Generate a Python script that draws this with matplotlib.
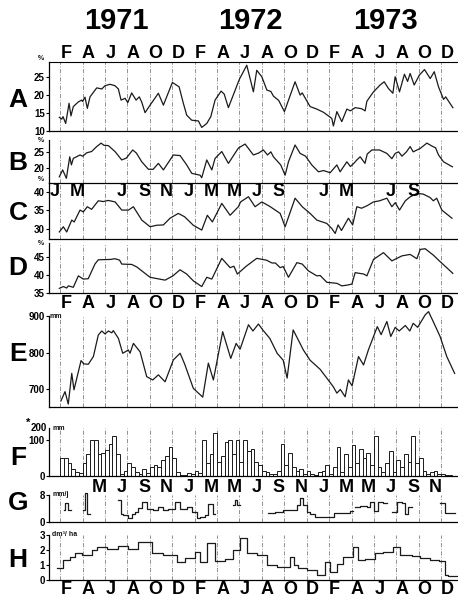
import numpy as np
import matplotlib.pyplot as plt
from matplotlib import transforms

plt.rcParams['font.family'] = ['Liberation Sans', 'DejaVu Sans']

# time axis: months counted from 1 Jan 1971 (0 = start of Jan 1971)
years = ['1971', '1972', '1973']
year_pos = [6, 18, 30]
months_main = ['F', 'A', 'J', 'A', 'O', 'D'] * 3
months_main_pos = [m + 0.5 for m in range(1, 36, 2)]
months_c = ['J', 'M', 'J', 'S', 'N', 'J', 'M', 'M', 'J', 'S', 'J', 'M', 'J', 'S']
months_c_pos = [0.5, 2.5, 6.5, 8.5, 10.5, 12.5, 14.5, 16.5, 18.5, 20.5, 24.5, 26.5, 30.5, 32.5]
months_g = ['M', 'J', 'S', 'N', 'J', 'M'] * 2 + ['M', 'J', 'S', 'N']
months_g_pos = [m + 0.5 for m in range(4, 36, 2)]

# A (%)
a_t = [0.92, 1.13, 1.25, 1.49, 1.79, 1.96, 2.17, 2.62, 2.92, 3.0, 3.21, 3.42, 3.66, 4.26, 4.71,
       5.0, 5.45, 5.89, 6.19, 6.43, 6.79, 7.03, 7.38, 7.77, 8.06, 8.28, 8.57, 9.02, 9.76, 10.21,
       11.01, 11.61, 11.99, 12.29, 12.74, 13.33, 13.63, 14.08, 14.44, 14.82, 15.36, 15.63, 16.01,
       16.99, 17.65, 18.24, 18.54, 18.99, 19.44, 19.8, 20.03, 20.5, 21.01, 21.96, 22.41, 22.6,
       23.3, 23.9, 24.5, 25.24, 25.38, 25.69, 26.13, 26.58, 26.9, 27.32, 27.9, 28.21, 28.37,
       28.96, 29.55, 29.91, 30.3, 30.69, 30.89, 31.28, 31.72, 32.0, 32.23, 32.59, 33.06, 33.51,
       34.02, 34.38, 34.76, 35.21, 35.4, 36.04]
a_v = [13.8, 13.3, 14.0, 12.1, 17.7, 14.2, 16.8, 18.1, 18.6, 18.2, 19.4, 16.3, 19.5, 22.0, 21.7,
       22.6, 23.0, 22.6, 21.7, 18.6, 19.1, 17.9, 20.6, 18.6, 19.5, 18.0, 15.1, 17.2, 20.5, 17.2,
       23.5, 22.3, 17.7, 14.4, 13.0, 12.8, 11.0, 12.1, 14.0, 18.6, 21.1, 20.3, 16.5,
       24.4, 28.3, 20.9, 26.9, 25.1, 21.4, 21.0, 19.7, 18.5, 15.4, 23.7, 20.0, 20.6,
       16.8, 16.1, 15.2, 13.5, 11.4, 15.4, 12.6, 16.1, 15.6, 16.5, 16.2, 15.6, 18.3,
       20.9, 22.8, 23.7, 21.8, 20.5, 25.1, 20.9, 25.8, 23.8, 26.0, 22.8, 25.6, 27.1,
       24.6, 26.5, 22.3, 18.8, 19.5, 16.5]

# B (%)
b_t = [0.92, 1.22, 1.55, 1.85, 2.0, 2.17, 2.77, 3.0, 3.37, 3.8, 4.26, 4.65, 4.9, 5.3, 5.89,
       6.49, 6.9, 7.47, 7.8, 8.28, 8.87, 9.3, 9.76, 10.21, 11.1, 11.7, 12.29, 12.74, 13.48,
       13.63, 14.08, 14.53, 14.82, 15.42, 16.01, 16.9, 17.5, 18.24, 18.7, 19.13, 19.5, 19.8,
       20.03, 20.68, 21.07, 21.37, 21.96, 22.41, 22.9, 23.45, 24.05, 24.5, 25.09, 25.69, 25.98,
       26.58, 26.9, 27.2, 27.5, 27.77, 28.2, 28.4, 28.81, 29.5, 30.15, 30.6, 30.9, 31.2, 31.5,
       31.9, 32.23, 32.5, 33.13, 33.72, 34.2, 34.5, 34.76, 35.21, 36.0]
b_v = [17.2, 19.4, 16.7, 23.6, 21.0, 23.1, 24.2, 23.8, 24.9, 25.3, 26.9, 28.0, 27.3, 27.2, 25.3,
       22.6, 23.2, 25.8, 24.8, 22.0, 19.6, 19.6, 21.5, 19.4, 24.2, 24.0, 21.0, 18.3, 17.7,
       16.9, 22.6, 19.4, 23.1, 25.3, 21.5, 26.4, 27.7, 24.2, 24.8, 25.8, 24.2, 25.2,
       23.6, 21.0, 17.7, 22.0, 27.4, 24.7, 23.8, 21.0, 18.8, 19.2, 18.5, 21.0, 18.8,
       22.0, 20.5, 21.5, 22.7, 23.6, 21.5, 24.5, 25.8, 25.8, 24.7, 23.0, 24.7, 25.2, 23.8,
       25.2, 26.9, 25.2, 26.3, 28.0, 27.0, 26.5, 24.2, 22.0, 20.4]

# C (%)
c_t = [0.92, 1.28, 1.58, 2.03, 2.25, 2.77, 3.06, 3.42, 3.8, 4.4, 4.85, 5.29, 5.9, 6.49, 7.1,
       7.53, 8.28, 9.02, 9.6, 10.21, 10.8, 11.54, 12.1, 12.88, 13.63, 14.13, 14.58, 15.42,
       16.16, 16.9, 17.1, 17.8, 18.39, 18.99, 19.7, 20.63, 21.07, 21.96, 22.6, 23.3, 23.9,
       24.79, 25.24, 25.54, 25.8, 26.1, 26.72, 27.1, 27.47, 27.9, 28.4, 28.96, 29.5, 30.15,
       30.6, 30.9, 31.28, 31.8, 32.2, 32.83, 33.4, 34.0, 34.3, 34.6, 35.06, 35.96]
c_v = [29.1, 30.5, 29.1, 32.3, 31.8, 35.0, 34.5, 35.9, 35.2, 37.5, 37.3, 37.6, 37.2, 35.0, 35.0,
       35.9, 32.3, 30.5, 30.9, 31.0, 32.8, 34.1, 33.2, 30.9, 29.6, 33.6, 31.8, 36.8,
       33.6, 35.9, 37.2, 38.6, 35.9, 37.2, 36.0, 34.1, 30.5, 38.2, 35.9, 34.1, 32.3,
       31.4, 30.0, 28.7, 31.0, 29.5, 32.8, 31.0, 35.9, 35.5, 36.2, 37.2, 37.5, 38.2,
       35.9, 37.0, 35.0, 37.5, 38.5, 39.5, 39.3, 38.4, 37.5, 38.2, 35.0, 32.8]

# D (%)
d_t = [0.92, 1.28, 1.58, 1.73, 2.17, 2.62, 3.06, 3.5, 4.1, 4.4, 5.5, 5.89, 6.3, 6.49, 7.38,
       7.83, 8.28, 9.02, 10.36, 11.06, 11.69, 12.29, 12.88, 13.63, 14.08, 14.53, 15.42, 16.16,
       16.5, 16.81, 17.6, 18.54, 19.4, 19.9, 20.2, 20.63, 20.9, 21.37, 22.12, 22.6, 23.15,
       23.9, 24.2, 24.79, 25.7, 26.13, 26.6, 27.03, 27.32, 28.1, 28.37, 28.96, 29.85, 30.4,
       30.6, 31.5, 32.23, 32.83, 33.13, 33.57, 34.3, 34.9, 36.04]
d_v = [36.3, 36.8, 36.4, 37.0, 36.6, 39.8, 38.9, 39.0, 43.1, 44.3, 44.4, 44.6, 44.2, 43.1, 43.0,
       42.3, 41.2, 39.4, 38.6, 39.8, 41.5, 40.3, 38.4, 36.8, 39.4, 38.9, 44.7, 42.1,
       42.5, 40.3, 42.5, 44.7, 44.2, 43.4, 43.4, 42.1, 42.4, 39.4, 43.5, 43.1, 41.2,
       39.8, 39.9, 38.0, 37.7, 37.0, 37.2, 37.5, 40.7, 40.3, 39.8, 44.4, 46.3, 44.6,
       44.0, 45.4, 45.8, 44.6, 47.2, 47.4, 45.6, 43.8, 40.5]

# E (mm)
e_t = [1.07, 1.43, 1.72, 2.03, 2.23, 2.86, 3.1, 3.51, 3.96, 4.4, 4.71, 5.0, 5.3, 5.6, 5.74,
       6.19, 6.58, 7.08, 7.23, 7.53, 8.13, 8.72, 9.26, 9.76, 10.36, 11.1, 11.7, 12.1, 12.88,
       13.72, 14.22, 14.67, 15.5, 16.22, 16.7, 17.05, 17.8, 18.2, 18.69, 19.1, 19.7, 20.36,
       20.9, 21.25, 21.79, 22.7, 23.3, 24.2, 25.36, 25.69, 26.0, 26.43, 26.72, 27.05, 27.62,
       28.07, 28.5, 28.9, 29.3, 29.64, 30.15, 30.5, 30.9, 31.25, 31.8, 32.2, 32.5, 32.9,
       33.57, 33.87, 34.3, 34.9, 35.5, 36.2]
e_v = [669, 694, 660, 744, 699, 779, 770, 769, 790, 849, 860, 852, 860, 855, 861,
       840, 799, 808, 799, 826, 803, 735, 726, 740, 721, 781, 799, 770, 703,
       679, 772, 726, 858, 785, 826, 810, 877, 860, 879, 862, 840, 799,
       780, 731, 863, 808, 780, 755, 708, 690, 700, 680, 726, 710, 790,
       767, 808, 840, 872, 850, 886, 845, 870, 860, 875, 860, 881, 870,
       904, 913, 885, 845, 790, 744]

# F (mm per ten-day period, Feb 1971 - Dec 1973)
f_start = 1.0
f_v = [49, 49, 35, 20, 10, 8, 35, 60, 100, 100, 62, 65, 72, 90, 112, 60, 5, 15,
       35, 25, 12, 5, 20, 8, 25, 30, 25, 45, 55, 80, 50, 10, 3,
       3, 8, 5, 15, 8, 100, 35, 60, 120, 40, 55, 95, 100, 60, 100, 40, 100, 70,
       75, 40, 30, 15, 10, 5, 5, 15, 90, 30, 65, 25, 15, 20, 5, 15, 5, 3,
       10, 15, 30, 5, 25, 80, 10, 60, 25, 85, 35, 75, 50, 65, 30, 110, 25, 10,
       35, 70, 10, 45, 25, 60, 40, 110, 35, 50, 15, 5, 10, 15, 5, 5, 3, 2]

# G (mm/j), nan = no data
g_edges = [1.3, 1.43, 1.73, 1.93, 3.07, 3.21, 3.36, 3.66, 6.19, 6.4, 6.58, 7.08, 7.38, 7.68,
           7.98, 8.27, 8.72, 9.32, 9.76, 10.21, 10.65, 11.25, 11.7, 12.29, 12.74, 13.18, 13.48,
           13.93, 14.23, 14.67, 14.82, 16.45, 16.61, 16.82, 17.05, 19.58, 20.2, 20.92, 22.11,
           22.41, 22.71, 23.0, 23.3, 23.75, 24.49, 25.39, 26.88, 27.11, 27.32, 27.77, 28.36,
           28.66, 28.96, 29.4, 29.85, 30.15, 30.6, 31.04, 31.49, 31.79, 32.08, 32.38, 34.91,
           35.36, 36.25]
g_v = [3.5, 5.5, 3.5, np.nan, 3.5, 8.5, 2.5, np.nan, 6.5, 2.5, 2.2, 1.2, 2.5,
       3.0, 4.1, 5.9, 4.0, 3.5, 4.4, 3.7, 3.8, 6.0, 4.0, 4.5, 3.0, 1.2,
       1.6, 2.0, 5.3, 2.5, np.nan, 5.0, 6.5, 5.0, np.nan, 2.6, 3.0, 3.5,
       5.0, 7.0, 5.0, 3.0, 2.5, 1.5, 1.6, 2.8, 3.2, np.nan, 4.5, 4.8,
       4.4, 6.0, 3.2, 6.0, 5.5, np.nan, 3.0, 6.0, 5.5, 2.5, 4.5, np.nan,
       5.5, 2.8]

# H (dm3/ha)
h_edges = [0.68, 1.28, 1.88, 2.32, 2.92, 3.81, 4.26, 5.15, 6.19, 7.08, 7.98, 9.17, 10.21, 11.4,
           12.14, 13.04, 13.48, 14.08, 14.82, 15.72, 16.46, 17.05, 17.65, 18.54, 19.43, 20.33,
           21.52, 21.82, 22.26, 23.0, 23.9, 24.64, 25.09, 25.69, 26.28, 27.17, 27.62, 28.21,
           29.1, 29.85, 30.74, 31.34, 32.38, 33.13, 34.02, 34.76, 35.36, 35.65, 36.4]
h_v = [0.8, 1.33, 1.55, 1.78, 1.67, 2.0, 2.18, 2.05, 2.27, 2.1, 2.55, 1.78, 1.67, 1.22,
       1.5, 1.9, 1.22, 2.45, 1.28, 1.4, 2.0, 2.78, 1.78, 1.67, 1.0, 0.9, 1.55, 1.0, 0.8,
       0.67, 0.33, 1.22, 0.55, 1.1, 1.55, 2.2, 1.33, 1.4, 1.8, 1.9, 2.2, 1.67, 1.6, 1.5,
       1.33, 1.28, 0.33, 0.3]

W, H = 458, 598
XMAX = 36.5
fig = plt.figure(figsize=(W / 100, H / 100), dpi=100)


def panel(top, bottom, ylim, yticks, top_spine=False, bottom_ls='-'):
    ax = fig.add_axes([49 / W, 1 - bottom / H, 1 - 49 / W, (bottom - top) / H])
    ax.set_xlim(0, XMAX)
    ax.set_ylim(*ylim)
    ax.set_xticks([])
    ax.set_yticks(yticks)
    ax.tick_params(axis='y', labelsize=7, length=2, width=0.8, pad=1)
    for lbl in ax.get_yticklabels():
        lbl.set_fontweight('bold')
    ax.spines['right'].set_visible(False)
    ax.spines['top'].set_visible(top_spine)
    ax.spines['left'].set_linewidth(0.9)
    ax.spines['bottom'].set_linewidth(0.9)
    ax.spines['bottom'].set_linestyle(bottom_ls)
    ax.patch.set_alpha(0)
    for m in range(1, 36, 2):
        ax.axvline(m, color='0.5', lw=0.6, ls=(0, (5, 2, 1, 2)), zorder=0)
    return ax


def stepped(edges, vals):
    x = np.repeat(np.asarray(edges, float), 2)[1:-1]
    y = np.repeat(np.asarray(vals, float), 2)
    return x, y


lc = '#1a1a1a'
lw = 0.9

axA = panel(62, 131, (10, 29.2), [10, 15, 20, 25], top_spine=True, bottom_ls=(0, (3, 1)))
axA.plot(a_t, a_v, color=lc, lw=lw)

axB = panel(140, 183, (15.2, 29.0), [20, 25])
axB.plot(b_t, b_v, color=lc, lw=lw)

axC = panel(183, 239, (27.2, 42.3), [30, 35, 40], bottom_ls=(0, (3, 1)))
axC.plot(c_t, c_v, color=lc, lw=lw)

axD = panel(243, 293, (35, 49), [35, 40, 45])
axD.plot(d_t, d_v, color=lc, lw=lw)

axE = panel(316, 407, (652, 901), [700, 800, 900])
axE.plot(e_t, e_v, color=lc, lw=lw, clip_on=False)

axF = panel(428, 476, (0, 133), [0, 100])
f_left = [f_start + i / 3 for i in range(len(f_v))]
axF.bar(f_left, f_v, width=1 / 3, align='edge', facecolor='white',
        edgecolor=lc, lw=0.7)

axG = panel(495, 522, (0, 8), [0, 8])
gx, gy = stepped(g_edges, g_v)
axG.plot(gx, gy, color=lc, lw=lw, clip_on=False)

axH = panel(535, 580, (0, 3), [0, 1, 2, 3])
hx, hy = stepped(h_edges, h_v)
axH.plot(hx, hy, color=lc, lw=lw)

# units and small labels
small = dict(fontsize=5, fontweight='bold', color='#111')
axA.text(-0.012, 1.0, '%', transform=axA.transAxes, ha='right', va='bottom', **small)
axB.text(-0.012, 1.0, '%', transform=axB.transAxes, ha='right', va='center', **small)
axC.text(-0.012, 1.0, '%', transform=axC.transAxes, ha='right', va='bottom', **small)
axD.text(-0.012, 1.0, '%', transform=axD.transAxes, ha='right', va='center', **small)
axE.text(0.008, 900, 'mm', ha='left', va='center', **small)
axF.text(-0.006, 1.0, '200', transform=axF.transAxes, ha='right', va='center',
         fontsize=7, fontweight='bold')
axF.text(0.008, 1.0, 'mm', transform=axF.transAxes, ha='left', va='center', **small)
axG.text(0.008, 1.0, 'mm/j', transform=axG.transAxes, ha='left', va='center', **small)
axH.text(0.008, 1.0, 'dm\u00b3/ ha', transform=axH.transAxes, ha='left', va='center', **small)

# panel letters
big = dict(fontsize=19, fontweight='bold', ha='center', va='center')
for name, yc in zip('ABCDEFGH', [100, 163, 213, 268, 354, 458, 503, 560]):
    fig.text(18 / W, 1 - yc / H, name, **big)
fig.text(28 / W, 1 - 423 / H, '*', fontsize=8, fontweight='bold', ha='center', va='center')

# month and year labels
tr = transforms.blended_transform_factory(axA.transData, fig.transFigure)
mon = dict(fontsize=13, fontweight='bold', ha='center', va='center', transform=tr)
for y_px in [53, 303, 590]:
    for lab, t in zip(months_main, months_main_pos):
        fig.text(t, 1 - y_px / H, lab, **mon)
for lab, t in zip(months_c, months_c_pos):
    fig.text(t, 1 - 192 / H, lab, **mon)
for lab, t in zip(months_g, months_g_pos):
    fig.text(t, 1 - 487 / H, lab, **mon)
for lab, t in zip(years, year_pos):
    fig.text(t, 1 - 21 / H, lab, fontsize=21, fontweight='bold', ha='center',
             va='center', transform=tr,
             family=['Liberation Sans Narrow', 'Liberation Sans', 'DejaVu Sans'])

fig.savefig('out.png', dpi=100)
